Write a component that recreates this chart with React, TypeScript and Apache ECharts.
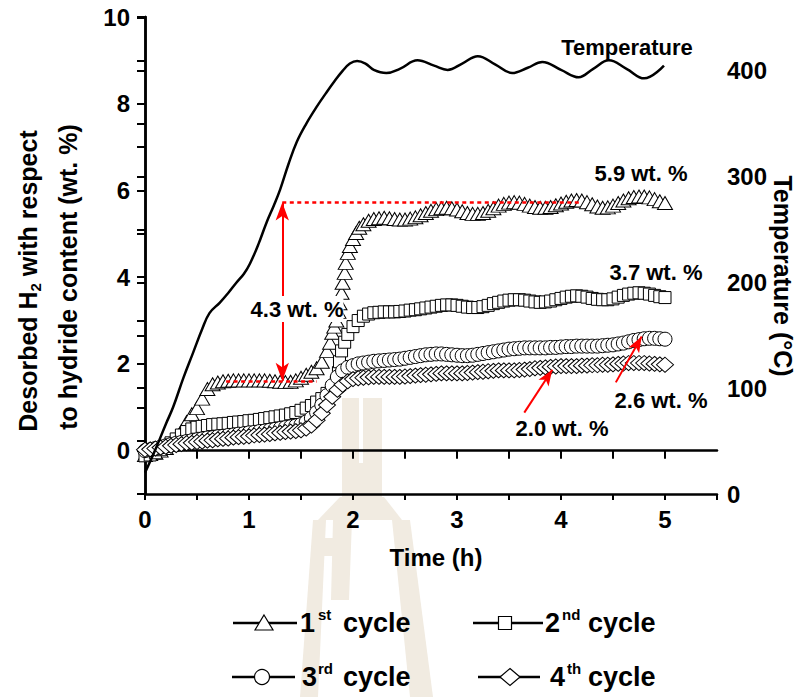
import React, { useEffect, useRef } from "react";
import * as echarts from "echarts";

const FONT = '"Liberation Sans", Arial, Helvetica, sans-serif';

// ---- data (time in h, desorbed H2 in wt.%) ----
const cycle1: number[][] = [
  [0, -0.1], [0.05, -0.08], [0.1, -0.05], [0.15, 0.0], [0.2, 0.06], [0.25, 0.14], [0.3, 0.26], [0.35, 0.45],
  [0.4, 0.66], [0.45, 0.84], [0.5, 0.98], [0.55, 1.2], [0.6, 1.42], [0.65, 1.53], [0.7, 1.57], [0.75, 1.6],
  [0.8, 1.61], [0.85, 1.62], [0.9, 1.62], [0.95, 1.62], [1.0, 1.62], [1.05, 1.62], [1.1, 1.62], [1.15, 1.62],
  [1.2, 1.61], [1.25, 1.6], [1.3, 1.59], [1.35, 1.58], [1.4, 1.59], [1.45, 1.62], [1.5, 1.68], [1.55, 1.75],
  [1.6, 1.82], [1.65, 1.9], [1.7, 2.05], [1.75, 2.3], [1.78, 2.49], [1.8, 2.72], [1.82, 2.86], [1.84, 3.0],
  [1.86, 3.2], [1.87, 3.4], [1.89, 3.64], [1.9, 3.87], [1.92, 4.1], [1.93, 4.33], [1.95, 4.56], [1.97, 4.72],
  [2.0, 4.88], [2.03, 5.02], [2.06, 5.14], [2.1, 5.22], [2.15, 5.3], [2.2, 5.34], [2.25, 5.36], [2.3, 5.37],
  [2.35, 5.36], [2.4, 5.34], [2.45, 5.33], [2.5, 5.33], [2.55, 5.35], [2.6, 5.38], [2.65, 5.43], [2.7, 5.48],
  [2.75, 5.53], [2.8, 5.57], [2.85, 5.59], [2.9, 5.6], [2.95, 5.59], [3.0, 5.56], [3.05, 5.52], [3.1, 5.48],
  [3.15, 5.46], [3.2, 5.46], [3.25, 5.48], [3.3, 5.53], [3.35, 5.59], [3.4, 5.65], [3.45, 5.69], [3.5, 5.72],
  [3.55, 5.73], [3.6, 5.72], [3.65, 5.69], [3.7, 5.65], [3.75, 5.62], [3.8, 5.6], [3.85, 5.6], [3.9, 5.62],
  [3.95, 5.66], [4.0, 5.7], [4.05, 5.74], [4.1, 5.77], [4.15, 5.78], [4.2, 5.77], [4.25, 5.73], [4.3, 5.68],
  [4.35, 5.63], [4.4, 5.6], [4.45, 5.61], [4.5, 5.65], [4.55, 5.71], [4.6, 5.77], [4.65, 5.82], [4.7, 5.85],
  [4.75, 5.86], [4.8, 5.86], [4.85, 5.84], [4.9, 5.8], [4.95, 5.75], [5.0, 5.71],
];

const cycle2: number[][] = [
  [0, -0.12], [0.05, -0.1], [0.1, -0.05], [0.15, 0.02], [0.2, 0.1], [0.25, 0.18], [0.3, 0.27], [0.35, 0.36],
  [0.4, 0.44], [0.45, 0.5], [0.5, 0.54], [0.55, 0.56], [0.6, 0.58], [0.65, 0.6], [0.7, 0.61], [0.75, 0.62],
  [0.8, 0.63], [0.85, 0.65], [0.9, 0.66], [0.95, 0.67], [1.0, 0.69], [1.05, 0.7], [1.1, 0.72], [1.15, 0.74],
  [1.2, 0.76], [1.25, 0.78], [1.3, 0.8], [1.35, 0.82], [1.4, 0.85], [1.45, 0.88], [1.5, 0.93], [1.55, 0.98],
  [1.6, 1.04], [1.65, 1.12], [1.7, 1.2], [1.75, 1.32], [1.8, 1.45], [1.84, 1.58], [1.86, 1.8], [1.87, 2.05],
  [1.89, 2.3], [1.92, 2.5], [1.95, 2.68], [2.0, 2.86], [2.05, 3.0], [2.1, 3.1], [2.15, 3.15], [2.2, 3.18],
  [2.25, 3.19], [2.3, 3.2], [2.35, 3.2], [2.4, 3.2], [2.45, 3.21], [2.5, 3.22], [2.55, 3.24], [2.6, 3.25],
  [2.65, 3.27], [2.7, 3.29], [2.75, 3.31], [2.8, 3.33], [2.85, 3.35], [2.9, 3.36], [2.95, 3.36], [3.0, 3.35],
  [3.05, 3.33], [3.1, 3.31], [3.15, 3.3], [3.2, 3.3], [3.25, 3.32], [3.3, 3.35], [3.35, 3.39], [3.4, 3.42],
  [3.45, 3.45], [3.5, 3.47], [3.55, 3.48], [3.6, 3.48], [3.65, 3.47], [3.7, 3.45], [3.75, 3.43], [3.8, 3.42],
  [3.85, 3.43], [3.9, 3.45], [3.95, 3.48], [4.0, 3.51], [4.05, 3.54], [4.1, 3.56], [4.15, 3.57], [4.2, 3.56],
  [4.25, 3.54], [4.3, 3.51], [4.35, 3.49], [4.4, 3.48], [4.45, 3.48], [4.5, 3.5], [4.55, 3.54], [4.6, 3.58],
  [4.65, 3.61], [4.7, 3.63], [4.75, 3.64], [4.8, 3.63], [4.85, 3.61], [4.9, 3.58], [4.95, 3.55], [5.0, 3.53],
];

// sampling times (h) for cycles 3 and 4
const sampleTimes: number[] = Array.from({ length: 101 }, (_, i) => Math.round(i * 5) / 100);

const cycle3Values: number[] = [
  0.0, 0.02, 0.05, 0.08, 0.11, 0.14, 0.17, 0.19, 0.21, 0.23,
  0.25, 0.27, 0.29, 0.3, 0.32, 0.33, 0.35, 0.36, 0.38, 0.39,
  0.41, 0.42, 0.44, 0.45, 0.47, 0.49, 0.51, 0.53, 0.55, 0.57,
  0.6, 0.66, 0.75, 0.88, 1.05, 1.27, 1.5, 1.7, 1.84, 1.92,
  1.96, 2.0, 2.02, 2.04, 2.06, 2.07, 2.08, 2.09, 2.1, 2.11,
  2.13, 2.15, 2.17, 2.19, 2.21, 2.22, 2.23, 2.23, 2.22, 2.21,
  2.2, 2.19, 2.19, 2.2, 2.22, 2.24, 2.26, 2.28, 2.3, 2.32,
  2.34, 2.35, 2.36, 2.37, 2.37, 2.37, 2.37, 2.37, 2.38, 2.38,
  2.39, 2.4, 2.4, 2.41, 2.41, 2.41, 2.41, 2.41, 2.42, 2.43,
  2.44, 2.46, 2.48, 2.51, 2.54, 2.56, 2.58, 2.59, 2.59, 2.58,
  2.57,
];

const cycle4Values: number[] = [
  0.02, 0.03, 0.05, 0.07, 0.09, 0.11, 0.13, 0.15, 0.17, 0.18,
  0.2, 0.21, 0.23, 0.24, 0.26, 0.27, 0.28, 0.3, 0.31, 0.32,
  0.33, 0.35, 0.36, 0.37, 0.38, 0.4, 0.41, 0.43, 0.44, 0.45,
  0.47, 0.51, 0.58, 0.7, 0.86, 1.05, 1.24, 1.4, 1.52, 1.6,
  1.65, 1.67, 1.68, 1.69, 1.7, 1.7, 1.7, 1.7, 1.7, 1.7,
  1.71, 1.72, 1.73, 1.74, 1.75, 1.76, 1.77, 1.78, 1.78, 1.78,
  1.78, 1.78, 1.79, 1.8, 1.81, 1.82, 1.83, 1.84, 1.85, 1.85,
  1.85, 1.85, 1.86, 1.87, 1.88, 1.9, 1.91, 1.92, 1.93, 1.94,
  1.95, 1.95, 1.95, 1.95, 1.96, 1.96, 1.97, 1.97, 1.98, 1.98,
  1.99, 2.0, 2.01, 2.02, 2.02, 2.02, 2.02, 2.01, 2.0, 1.99,
  1.98,
];

// temperature (h, °C)
const temperature: number[][] = [
  [0, 20], [0.1, 42], [0.2, 66], [0.27, 82], [0.37, 110], [0.46, 133], [0.55, 156], [0.62, 171],
  [0.72, 181], [0.8, 190], [0.88, 200], [0.95, 208], [1.01, 218], [1.09, 236], [1.17, 257], [1.24, 273],
  [1.3, 288], [1.38, 312], [1.46, 333], [1.55, 350], [1.65, 366], [1.74, 379], [1.82, 390], [1.9, 400],
  [1.97, 407], [2.04, 409.5], [2.12, 407], [2.2, 401], [2.32, 398], [2.45, 402], [2.62, 410], [2.78, 405],
  [2.91, 401], [3.05, 407], [3.2, 414], [3.37, 406], [3.53, 398], [3.68, 403], [3.82, 408.5], [4.0, 401],
  [4.17, 394], [4.31, 402], [4.46, 410], [4.63, 402], [4.8, 393], [4.99, 405],
];

// annotations (data coordinates)
const plateauLow = 1.61;
const plateauHigh = 5.72;
const lowLineX = [0.78, 1.65];
const highLineX = [1.32, 4.2];
const gapArrowX = 1.32;
const arrow20 = [[3.647, 0.876], [3.916, 1.866]];
const arrow26 = [[4.527, 1.574], [4.776, 2.633]];

const seriesNames = ["1st cycle", "2nd cycle", "3rd cycle", "4th cycle"];

const BEIGE = "#f1ebe1";

function txt(x: number, y: number, text: string, size: number, align = "center", extra: any = {}) {
  return {
    type: "text",
    x,
    y,
    z: 50,
    silent: true,
    style: {
      text,
      fill: "#000",
      font: `bold ${size}px ${FONT}`,
      fontSize: size,
      fontWeight: "bold",
      fontFamily: FONT,
      textAlign: align,
      align,
      textVerticalAlign: "middle",
      verticalAlign: "middle",
      ...extra,
    },
  };
}

function legendItem(x1: number, x2: number, y: number, sym: any, num: string, sup: string, numX: number, supX: number, cycX: number) {
  return [
    { type: "line", z: 50, silent: true, shape: { x1, y1: y, x2, y2: y }, style: { stroke: "#000", lineWidth: 2.5 } },
    { ...sym, z: 51, silent: true },
    txt(numX, y, num, 27, "left"),
    txt(supX, y - 9, sup, 15, "left"),
    txt(cycX, y, "cycle", 27, "left"),
  ];
}

export default function App() {
  const ref = useRef<HTMLDivElement>(null);

  useEffect(() => {
    if (!ref.current) return;
    const chart = echarts.init(ref.current, undefined, { renderer: "svg" });

    const axisLabelStyle = { color: "#000", fontSize: 24, fontWeight: "bold", fontFamily: FONT };
    const axisLine = { show: true, lineStyle: { color: "#000", width: 2.5 } };
    const tick = (inside: boolean) => ({ show: true, inside, length: 8, lineStyle: { color: "#000", width: 2 } });

    const scatterBase = (name: string, data: number[][], symbol: string, size: any) => ({
      name,
      type: "scatter",
      xAxisIndex: 0,
      yAxisIndex: 0,
      data,
      symbol,
      symbolSize: size,
      itemStyle: { color: "#fff", borderColor: "#000", borderWidth: 1, opacity: 1 },
      silent: true,
    });

    const cycle3 = sampleTimes.map((t, i) => [t, cycle3Values[i]]);
    const cycle4 = sampleTimes.map((t, i) => [t, cycle4Values[i]]);

    const red = "#ff0000";

    const graphic: any[] = [
      // watermark (faint logo)
      { type: "rect", z: -5, silent: true, shape: { x: 342, y: 398, width: 17, height: 99 }, style: { fill: BEIGE } },
      { type: "rect", z: -5, silent: true, shape: { x: 363, y: 398, width: 19, height: 99 }, style: { fill: BEIGE } },
      { type: "rect", z: -5, silent: true, shape: { x: 358, y: 463, width: 6, height: 34 }, style: { fill: BEIGE } },
      { type: "polygon", z: -5, silent: true, shape: { points: [[340, 497], [384, 497], [402, 520], [318, 520]] }, style: { fill: BEIGE } },
      { type: "polygon", z: -5, silent: true, shape: { points: [[313, 520], [326, 520], [318, 697], [300, 697]] }, style: { fill: BEIGE } },
      { type: "polygon", z: -5, silent: true, shape: { points: [[333, 520], [352, 520], [349, 600], [331, 600]] }, style: { fill: BEIGE } },
      { type: "rect", z: -5, silent: true, shape: { x: 320, y: 538, width: 30, height: 18 }, style: { fill: BEIGE } },
      { type: "polygon", z: -5, silent: true, shape: { points: [[392, 520], [410, 520], [433, 697], [410, 697]] }, style: { fill: BEIGE } },

      // axis titles
      {
        type: "text", x: 28, y: 281, rotation: Math.PI / 2, z: 50, silent: true,
        style: {
          text: "{a|Desorbed H}{s|2}{a| with respect}",
          textAlign: "center", align: "center", textVerticalAlign: "middle", verticalAlign: "middle",
          fill: "#000",
          rich: {
            a: { fontSize: 25, fontWeight: "bold", fontFamily: FONT, fill: "#000", color: "#000", lineHeight: 30, verticalAlign: "middle" },
            s: { fontSize: 15, fontWeight: "bold", fontFamily: FONT, fill: "#000", color: "#000", lineHeight: 30, verticalAlign: "bottom", padding: [14, 0, 0, 0] },
          },
        },
      },
      {
        type: "text", x: 68, y: 277, rotation: Math.PI / 2, z: 50, silent: true,
        style: {
          text: "to hydride content (wt. %)",
          font: `bold 25px ${FONT}`, fontSize: 25, fontWeight: "bold", fontFamily: FONT,
          textAlign: "center", align: "center", textVerticalAlign: "middle", verticalAlign: "middle", fill: "#000",
        },
      },
      {
        type: "text", x: 783, y: 276, rotation: -Math.PI / 2, z: 50, silent: true,
        style: {
          text: "Temperature (°C)",
          font: `bold 25px ${FONT}`, fontSize: 25, fontWeight: "bold", fontFamily: FONT,
          textAlign: "center", align: "center", textVerticalAlign: "middle", verticalAlign: "middle", fill: "#000",
        },
      },
      txt(436, 557, "Time (h)", 24),

      // annotations
      txt(627, 47, "Temperature", 22),
      txt(641, 173, "5.9 wt. %", 22),
      txt(656, 272, "3.7 wt. %", 22),
      txt(661, 400, "2.6 wt. %", 22),
      txt(562, 428, "2.0 wt. %", 22),
      txt(297, 309, "4.3 wt. %", 22, "center", { backgroundColor: "#fff", padding: [2, 0, 2, 0] }),

      // legend
      ...legendItem(233, 297, 623,
        { type: "polygon", shape: { points: [[264, 615], [273, 630], [255, 630]] }, style: { fill: "#fff", stroke: "#000", lineWidth: 1.2 } },
        "1", "st", 300, 318, 343),
      ...legendItem(473, 543, 623,
        { type: "rect", shape: { x: 498.5, y: 616.5, width: 13, height: 13 }, style: { fill: "#fff", stroke: "#000", lineWidth: 1.2 } },
        "2", "nd", 545, 562, 588),
      ...legendItem(232, 295, 677,
        { type: "circle", shape: { cx: 262, cy: 677, r: 7.5 }, style: { fill: "#fff", stroke: "#000", lineWidth: 1.2 } },
        "3", "rd", 302, 318, 343),
      ...legendItem(478, 540, 677,
        { type: "polygon", shape: { points: [[510, 668.5], [520, 677], [510, 685.5], [500, 677]] }, style: { fill: "#fff", stroke: "#000", lineWidth: 1.2 } },
        "4", "th", 550, 567, 588),
    ];

    const option: any = {
      animation: false,
      backgroundColor: "#fff",
      grid: { left: 145, right: 85, top: 17, bottom: 203, containLabel: false },
      xAxis: [
        {
          type: "value", min: 0, max: 5.5, interval: 0.5, position: "bottom",
          axisLine, axisTick: tick(false), splitLine: { show: false },
          axisLabel: {
            ...axisLabelStyle, margin: 13, showMaxLabel: false,
            formatter: (v: number) => (Math.abs(v - Math.round(v)) < 1e-6 && v <= 5 ? String(Math.round(v)) : ""),
          },
        },
        {
          type: "value", min: 0, max: 5.5, interval: 0.5, position: "top",
          axisLine, axisTick: { ...tick(true), length: 6 }, splitLine: { show: false }, axisLabel: { show: false },
        },
      ],
      yAxis: [
        {
          type: "value", min: -1, max: 10, interval: 1, position: "left",
          axisLine, axisTick: tick(false), splitLine: { show: false },
          axisLabel: {
            ...axisLabelStyle, margin: 15,
            formatter: (v: number) => {
              const r = Math.round(v);
              return r >= 0 && r % 2 === 0 ? String(r) : "";
            },
          },
        },
        {
          type: "value", min: 0, max: 451, interval: 50, position: "right",
          axisLine, axisTick: tick(true), splitLine: { show: false },
          axisLabel: {
            ...axisLabelStyle, margin: 10, showMaxLabel: false,
            formatter: (v: number) => {
              const r = Math.round(v);
              return r % 100 === 0 && r <= 400 ? String(r) : "";
            },
          },
        },
      ],
      series: [
        scatterBase(seriesNames[0], cycle1, "triangle", [15, 13]),
        scatterBase(seriesNames[1], cycle2, "rect", 12),
        scatterBase(seriesNames[2], cycle3, "circle", 14),
        scatterBase(seriesNames[3], cycle4, "diamond", [17, 15]),
        {
          name: "Temperature",
          type: "line",
          xAxisIndex: 0,
          yAxisIndex: 1,
          data: temperature,
          smooth: 0.4,
          showSymbol: false,
          symbol: "none",
          lineStyle: { color: "#000", width: 2.5 },
          silent: true,
          z: 5,
        },
        {
          name: "annotations",
          type: "line",
          xAxisIndex: 0,
          yAxisIndex: 0,
          data: [],
          silent: true,
          z: 6,
          markLine: {
            silent: true,
            animation: false,
            label: { show: false },
            emphasis: { disabled: true },
            lineStyle: { color: red, width: 2.5, type: [4, 3.5] },
            data: [
              [
                { coord: [highLineX[0], plateauHigh], symbol: "none", lineStyle: { color: red, width: 2.5, type: [4, 3.5] } },
                { coord: [highLineX[1], plateauHigh], symbol: "none" },
              ],
              [
                { coord: [lowLineX[0], plateauLow], symbol: "none", lineStyle: { color: red, width: 2.5, type: [4, 3.5] } },
                { coord: [lowLineX[1], plateauLow], symbol: "none" },
              ],
              [
                { coord: [gapArrowX, plateauHigh], symbol: "arrow", symbolSize: [10, 18], lineStyle: { color: red, width: 2, type: "solid" } },
                { coord: [gapArrowX, plateauLow], symbol: "arrow", symbolSize: [10, 18] },
              ],
              [
                { coord: arrow20[0], symbol: "none", lineStyle: { color: red, width: 2, type: "solid" } },
                { coord: arrow20[1], symbol: "arrow", symbolSize: [9, 16] },
              ],
              [
                { coord: arrow26[0], symbol: "none", lineStyle: { color: red, width: 2, type: "solid" } },
                { coord: arrow26[1], symbol: "arrow", symbolSize: [9, 16] },
              ],
            ],
          },
        },
      ],
      graphic,
    };

    chart.setOption(option);
    return () => chart.dispose();
  }, []);

  return (
    <div
      ref={ref}
      style={{ position: "absolute", left: 0, top: 0, width: 802, height: 697, background: "#fff" }}
    />
  );
}
